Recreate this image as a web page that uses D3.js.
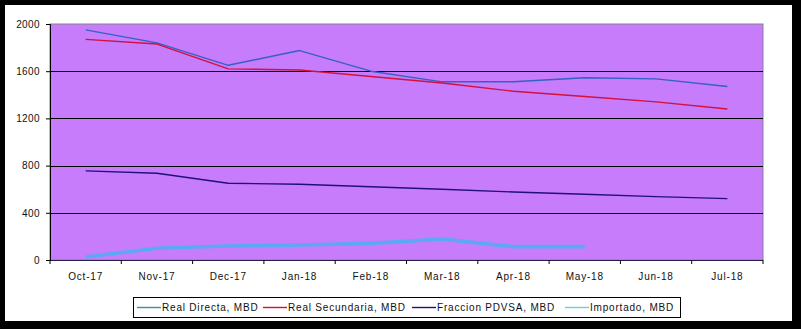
<!DOCTYPE html>
<html>
<head>
<meta charset="utf-8">
<script src="https://cdn.jsdelivr.net/npm/d3@7"></script>
<style>
  html, body { margin: 0; padding: 0; background: #000; }
  svg { display: block; }
  text { font-family: "Liberation Sans", Arial, sans-serif; }
</style>
</head>
<body>
<svg id="chart" width="801" height="329"></svg>
<script>
// Monthly categories
const months = ["Oct-17", "Nov-17", "Dec-17", "Jan-18", "Feb-18", "Mar-18", "Apr-18", "May-18", "Jun-18", "Jul-18"];

// Series values (MBD)
const realDirecta    = [1950, 1840, 1650, 1775, 1600, 1510, 1510, 1545, 1535, 1470];
const realSecundaria = [1870, 1830, 1620, 1610, 1555, 1500, 1430, 1385, 1340, 1280];
const fraccionPDVSA  = [755, 735, 650, 642, 621, 599, 576, 557, 537, 520];
const importado      = [25, 99, 119, 127, 141, 178, 113, 113];

// Y axis ticks
const yTicks = [0, 400, 800, 1200, 1600, 2000];

const series = [
  { name: "Real Directa, MBD",    values: realDirecta,    color: "#3461c4", legendColor: "#3a8fa8", width: 1.4 },
  { name: "Real Secundaria, MBD", values: realSecundaria, color: "#d4103c", legendColor: "#d4103c", width: 1.4 },
  { name: "Fraccion PDVSA, MBD",  values: fraccionPDVSA,  color: "#22107a", legendColor: "#22107a", width: 1.4 },
  { name: "Importado, MBD",       values: importado,      color: "#5aa8f6", legendColor: "#5fd2e6", width: 3.6 }
];

const svg = d3.select("#chart");

// White chart panel on black frame
svg.append("rect").attr("x", 5).attr("y", 5).attr("width", 787).attr("height", 316).attr("fill", "#fff");

const plot = { left: 50, top: 24, right: 763, bottom: 260 };

const x = d3.scaleBand().domain(months).range([plot.left, plot.right]).padding(0);
const y = d3.scaleLinear().domain([0, 2000]).range([plot.bottom, plot.top]);

const defs = svg.append("defs");
defs.append("filter").attr("id", "soft")
  .append("feGaussianBlur").attr("stdDeviation", 0.7);

// Plot background
svg.append("rect")
  .attr("x", plot.left).attr("y", plot.top)
  .attr("width", plot.right - plot.left).attr("height", plot.bottom - plot.top)
  .attr("fill", "#c67cfb")
  .attr("stroke", "#8a7f92").attr("stroke-width", 1);

// Gridlines
svg.append("g")
  .selectAll("line")
  .data(yTicks.filter(t => t > 0 && t < 2000))
  .join("line")
  .attr("x1", plot.left).attr("x2", plot.right)
  .attr("y1", d => Math.round(y(d)) + 0.5).attr("y2", d => Math.round(y(d)) + 0.5)
  .attr("stroke", "#000").attr("stroke-width", 1);

// Y axis
const yAxis = d3.axisLeft(y).tickValues(yTicks).tickSize(4).tickPadding(6).tickFormat(d3.format("d"));
const gy = svg.append("g").attr("transform", `translate(${plot.left},0)`).call(yAxis);
gy.select(".domain").attr("stroke", "#000");
gy.selectAll(".tick line").attr("stroke", "#000");
gy.selectAll("text").attr("font-size", 10).attr("fill", "#111").attr("letter-spacing", 0.4);

// X axis: ticks on category boundaries
const boundaries = months.map(m => x(m)).concat([plot.right]);
const gx = svg.append("g");
gx.append("line")
  .attr("x1", plot.left).attr("x2", plot.right)
  .attr("y1", plot.bottom + 0.5).attr("y2", plot.bottom + 0.5)
  .attr("stroke", "#2a2040").attr("stroke-width", 1.2);
gx.selectAll("line.tk")
  .data(boundaries)
  .join("line").attr("class", "tk")
  .attr("x1", d => d).attr("x2", d => d)
  .attr("y1", plot.bottom).attr("y2", plot.bottom + 4)
  .attr("stroke", "#000");
gx.selectAll("text")
  .data(months)
  .join("text")
  .attr("x", d => x(d) + x.bandwidth() / 2)
  .attr("y", plot.bottom + 20)
  .attr("text-anchor", "middle")
  .attr("font-size", 10)
  .attr("letter-spacing", 0.8)
  .attr("fill", "#111")
  .text(d => d);

// Lines
const line = d3.line()
  .x((d, i) => x(months[i]) + x.bandwidth() / 2)
  .y(d => y(d));

svg.append("g")
  .selectAll("path")
  .data(series)
  .join("path")
  .attr("d", d => line(d.values))
  .attr("fill", "none")
  .attr("stroke", d => d.color)
  .attr("stroke-width", d => d.width)
  .attr("stroke-linejoin", "round")
  .attr("filter", d => d.width > 2 ? "url(#soft)" : null);

// Legend
const legend = svg.append("g");
legend.append("rect")
  .attr("x", 133.5).attr("y", 297.5).attr("width", 547).attr("height", 20)
  .attr("fill", "#fff").attr("stroke", "#000").attr("stroke-width", 1);

const legendX = [137, 263, 412, 565];
const items = legend.selectAll("g.item")
  .data(series)
  .join("g").attr("class", "item")
  .attr("transform", (d, i) => `translate(${legendX[i]},307.5)`);
items.append("line")
  .attr("x1", 0).attr("x2", 24)
  .attr("stroke", d => d.legendColor)
  .attr("stroke-width", 1.4);
items.append("text")
  .attr("x", 25).attr("y", 3.5)
  .attr("font-size", 10)
  .attr("letter-spacing", 0.8)
  .attr("fill", "#111")
  .text(d => d.name);
</script>
</body>
</html>
